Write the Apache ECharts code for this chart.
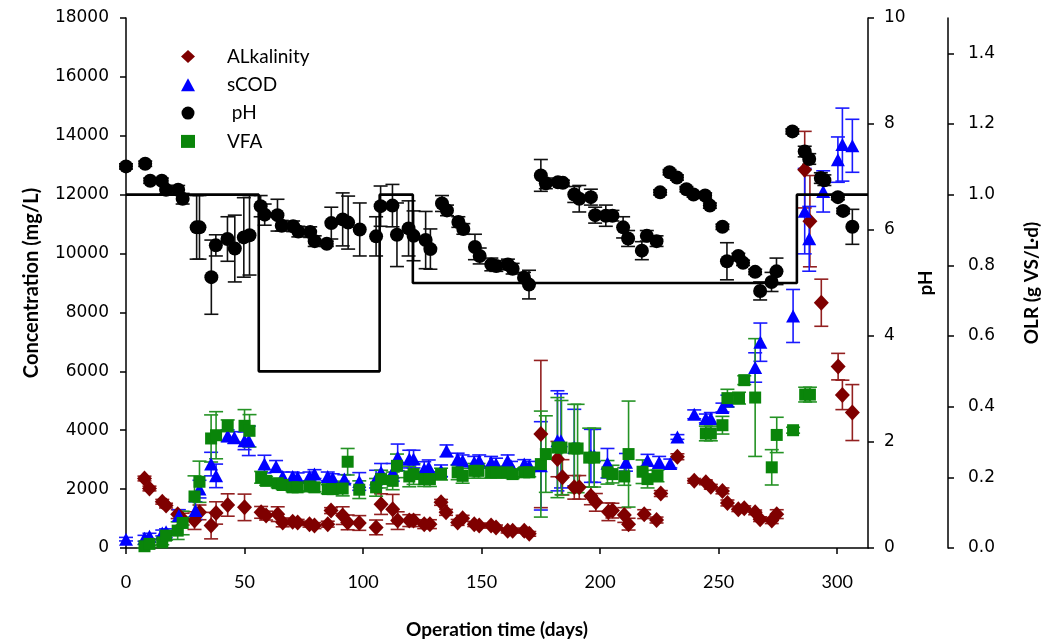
<!DOCTYPE html>
<html>
<head>
<meta charset="utf-8">
<script src="https://cdn.jsdelivr.net/npm/echarts@6/dist/echarts.min.js"></script>
<style>
  html, body { margin: 0; padding: 0; background: #ffffff; }
  #chart { width: 1049px; height: 644px; }
</style>
</head>
<body>
<div id="chart"></div>
<script>
// ---- Alkalinity (mg/L) ----
const alkDays = [7.8, 9.9, 15.3, 16.9, 21.8, 23.9, 28.9, 31.0, 35.9, 38.0, 42.9, 50.0, 57.0, 59.1, 64.0, 66.1, 70.3, 72.4, 77.4, 79.5, 85.1, 86.5, 91.4, 93.5, 98.4, 105.5, 107.6, 112.5, 114.6, 119.5, 121.3, 125.8, 128.2, 132.9, 135.0, 139.9, 142.0, 146.9, 149.0, 154.0, 156.1, 161.0, 163.1, 168.0, 170.1, 175.0, 182.0, 184.1, 189.1, 191.2, 196.1, 198.2, 203.5, 205.2, 210.2, 212.0, 218.6, 223.8, 225.6, 232.6, 239.7, 244.6, 246.7, 251.6, 253.7, 258.3, 260.8, 265.4, 267.5, 272.4, 274.5, 286.3, 288.5, 293.3, 300.4, 302.2, 306.4];
const alkValues = [2360, 2020, 1570, 1440, 1150, 980, 930, 1210, 760, 1190, 1460, 1380, 1210, 1100, 1150, 870, 890, 870, 810, 760, 810, 1270, 1100, 870, 850, 700, 1490, 1320, 930, 930, 930, 810, 810, 1550, 1210, 870, 1010, 810, 760, 760, 700, 590, 590, 590, 480, 3870, 3020, 2400, 2060, 2060, 1770, 1550, 1230, 1270, 1120, 810, 1150, 950, 1850, 3100, 2280, 2230, 2080, 1940, 1530, 1320, 1350, 1210, 980, 930, 1150, 12850, 11100, 8330, 6160, 5200, 4600];
const alkErrors = [80, 80, 80, 80, 150, 200, 300, 250, 450, 380, 380, 450, 200, 150, 250, 150, 100, 100, 100, 100, 100, 100, 300, 250, 250, 250, 350, 500, 300, 200, 200, 150, 150, 100, 100, 100, 100, 80, 80, 80, 80, 80, 80, 80, 80, 2500, 600, 600, 400, 400, 300, 300, 300, 250, 250, 200, 150, 100, 100, 100, 80, 80, 80, 100, 100, 80, 80, 80, 80, 100, 150, 1300, 1550, 800, 450, 500, 950];

// ---- Soluble COD (mg/L) ----
const codDays = [0, 7.8, 9.9, 15.3, 16.9, 22.3, 29.3, 31.0, 35.9, 38.0, 42.9, 45.7, 50.0, 51.8, 58.4, 63.3, 66.1, 70.3, 72.4, 77.4, 79.5, 85.1, 87.2, 92.1, 98.4, 105.5, 107.6, 112.5, 114.6, 119.5, 121.3, 125.8, 127.7, 132.9, 135.2, 139.9, 142.0, 146.9, 149.0, 154.0, 156.1, 161.0, 162.4, 168.0, 170.1, 175.0, 182.0, 183.5, 189.1, 196.1, 197.5, 203.1, 210.9, 220.0, 224.9, 229.6, 232.6, 239.7, 244.6, 246.7, 251.6, 253.7, 265.4, 267.6, 281.4, 286.3, 288.2, 294.1, 300.3, 302.2, 306.4];
const codValues = [300, 330, 400, 510, 550, 1100, 1270, 2000, 2850, 2450, 3810, 3750, 3640, 3640, 2850, 2770, 2430, 2430, 2400, 2430, 2510, 2430, 2370, 2340, 2260, 2340, 2570, 2570, 3080, 3020, 3020, 2680, 2740, 2620, 3300, 3020, 2960, 2910, 2960, 2910, 2850, 2960, 2790, 2850, 2790, 2790, 3640, 3640, 3410, 3130, 3130, 2880, 2910, 2980, 2910, 2870, 3770, 4540, 4400, 4400, 4770, 4990, 6130, 6990, 7880, 11440, 10500, 12110, 13190, 13700, 13660];
const codErrors = [60, 100, 100, 100, 100, 200, 300, 300, 400, 400, 200, 200, 300, 500, 300, 200, 150, 150, 150, 150, 150, 150, 150, 150, 300, 300, 300, 300, 450, 300, 300, 250, 250, 200, 200, 200, 200, 200, 200, 200, 200, 200, 150, 150, 150, 1500, 1700, 1600, 1300, 900, 900, 500, 300, 200, 200, 150, 80, 150, 150, 200, 150, 200, 500, 650, 900, 1450, 1100, 700, 770, 1240, 900];

// ---- pH ----
const phDays = [0, 8.1, 10.2, 15.1, 16.9, 22.0, 23.9, 29.8, 31.0, 36.0, 37.9, 42.8, 45.9, 49.7, 52.1, 56.8, 58.5, 63.9, 65.7, 70.5, 72.7, 77.7, 79.6, 84.7, 86.6, 91.4, 93.7, 98.6, 105.5, 107.4, 112.4, 114.3, 119.2, 121.3, 126.4, 128.4, 133.3, 135.4, 140.2, 142.3, 147.2, 149.2, 154.1, 156.2, 161.1, 163.1, 167.9, 170.0, 175.0, 177.1, 182.2, 184.3, 189.1, 191.2, 196.1, 197.9, 202.4, 205.2, 209.7, 211.8, 217.6, 219.7, 223.8, 225.3, 229.3, 232.4, 236.4, 239.4, 244.3, 246.3, 251.6, 253.5, 258.3, 260.3, 265.4, 267.5, 272.3, 274.4, 281.1, 286.3, 288.2, 293.1, 294.6, 300.3, 302.5, 306.4];
const phValues = [7.20, 7.25, 6.93, 6.93, 6.76, 6.76, 6.59, 6.05, 6.05, 5.11, 5.71, 5.83, 5.65, 5.86, 5.90, 6.45, 6.29, 6.28, 6.08, 6.07, 5.97, 5.96, 5.79, 5.74, 6.13, 6.20, 6.14, 6.01, 5.88, 6.45, 6.46, 5.91, 6.03, 5.89, 5.81, 5.64, 6.50, 6.37, 6.15, 6.02, 5.68, 5.51, 5.35, 5.32, 5.35, 5.27, 5.10, 4.97, 7.03, 6.88, 6.90, 6.89, 6.67, 6.59, 6.62, 6.28, 6.27, 6.27, 6.05, 5.84, 5.61, 5.89, 5.79, 6.71, 7.09, 6.99, 6.77, 6.67, 6.65, 6.46, 6.06, 5.41, 5.51, 5.38, 5.21, 4.85, 5.02, 5.22, 7.86, 7.48, 7.34, 6.98, 6.94, 6.62, 6.36, 6.06];
const phErrors = [0.05, 0.05, 0.05, 0.05, 0.08, 0.08, 0.1, 0.6, 0.6, 0.7, 0.2, 0.42, 0.63, 0.75, 0.75, 0.2, 0.2, 0.3, 0.1, 0.1, 0.1, 0.1, 0.1, 0.05, 0.3, 0.5, 0.5, 0.5, 0.37, 0.38, 0.4, 0.6, 0.52, 0.47, 0.54, 0.38, 0.15, 0.1, 0.1, 0.1, 0.24, 0.15, 0.12, 0.1, 0.1, 0.1, 0.1, 0.27, 0.3, 0.1, 0.05, 0.05, 0.15, 0.25, 0.15, 0.15, 0.2, 0.1, 0.2, 0.15, 0.17, 0.1, 0.1, 0.05, 0.05, 0.05, 0.05, 0.05, 0.05, 0.05, 0.05, 0.35, 0.05, 0.05, 0.05, 0.17, 0.18, 0.25, 0.05, 0.1, 0.1, 0.1, 0.1, 0.05, 0.05, 0.33];

// ---- Volatile fatty acids (mg/L) ----
const vfaDays = [7.8, 9.9, 15.3, 16.9, 21.8, 23.9, 28.9, 31.0, 35.9, 38.0, 42.9, 50.0, 52.1, 57.0, 59.1, 64.0, 66.1, 70.3, 72.4, 77.4, 79.5, 85.1, 87.2, 91.4, 93.5, 98.4, 105.5, 107.6, 112.5, 114.3, 119.5, 121.3, 125.8, 128.2, 132.9, 139.9, 142.0, 146.9, 148.7, 154.0, 156.1, 161.0, 163.1, 168.0, 170.1, 175.0, 177.1, 182.0, 183.7, 189.1, 190.5, 195.4, 197.5, 203.1, 205.2, 210.2, 212.0, 217.9, 220.0, 224.2, 244.6, 246.7, 251.6, 253.7, 258.6, 260.8, 265.4, 272.4, 274.5, 281.4, 286.5, 288.5];
const vfaValues = [60, 140, 190, 420, 590, 850, 1750, 2250, 3720, 3830, 4150, 4150, 3980, 2400, 2280, 2200, 2140, 2060, 2060, 2090, 2060, 2000, 2000, 2020, 2930, 1980, 2060, 2340, 2280, 2790, 2430, 2510, 2340, 2340, 2510, 2570, 2450, 2620, 2620, 2570, 2570, 2570, 2510, 2570, 2570, 2850, 3190, 3410, 3410, 3380, 3380, 3070, 3070, 2570, 2510, 2430, 3190, 2590, 2340, 2450, 3890, 3890, 4170, 5090, 5090, 5700, 5110, 2740, 3840, 4000, 5210, 5210];
const vfaErrors = [60, 60, 80, 150, 300, 400, 700, 700, 800, 800, 200, 550, 550, 200, 150, 150, 150, 150, 150, 150, 150, 150, 150, 250, 450, 300, 300, 300, 300, 400, 350, 350, 250, 250, 200, 250, 250, 250, 250, 200, 200, 200, 150, 150, 150, 1800, 1300, 1700, 1600, 1500, 1500, 1000, 1000, 400, 300, 300, 1800, 400, 300, 200, 250, 250, 300, 300, 200, 150, 2000, 600, 600, 100, 250, 250];

// ---- Organic loading rate (g VS/L·d), stepwise ----
const olrDays = [0, 56, 107, 121, 283, 313];
const olrValues = [1.0, 0.5, 1.0, 0.75, 1.0, 1.0];

// ---- Axis ticks ----
const dayTicks = [0, 50, 100, 150, 200, 250, 300];
const olrTicks = [0, 0.2, 0.4, 0.6, 0.8, 1.0, 1.2, 1.4];

const ALK_COLOR = '#7f0000', ALK_BAR = '#932020';
const COD_COLOR = '#0000ff', COD_BAR = '#1a1aff';
const PH_COLOR = '#000000', PH_BAR = '#111111';
const VFA_COLOR = '#0a850a', VFA_BAR = '#259325';

const tickFont = { fontFamily: 'DejaVu Sans', fontSize: 17, color: '#000' };
const nameFont = { fontFamily: 'Lato', fontWeight: 'bold', fontSize: 19, color: '#000' };
const axisLine = { show: true, lineStyle: { color: '#000', width: 1.5 } };
const axisTick = { show: true, inside: false, length: 6, lineStyle: { color: '#000', width: 1.5 } };

function pairs(xs, ys) { return xs.map((x, i) => [x, ys[i]]); }

// Vertical error bars with caps, placed through the axis scales.
function errorBars(id, days, vals, errs, color, yAxisIndex) {
  return {
    id: id,
    type: 'custom',
    yAxisIndex: yAxisIndex,
    silent: true,
    encode: { x: 0, y: 1 },
    data: days.map((d, i) => [d, vals[i], errs[i]]),
    renderItem: function (params, api) {
      const d = api.value(0), v = api.value(1), e = api.value(2);
      const top = api.coord([d, v + e]);
      const bot = api.coord([d, v - e]);
      const cap = 7;
      const st = () => ({ stroke: color, lineWidth: 1.6 });
      return {
        type: 'group',
        children: [
          { type: 'line', shape: { x1: top[0], y1: top[1], x2: bot[0], y2: bot[1] }, style: st() },
          { type: 'line', shape: { x1: top[0] - cap, y1: top[1], x2: top[0] + cap, y2: top[1] }, style: st() },
          { type: 'line', shape: { x1: bot[0] - cap, y1: bot[1], x2: bot[0] + cap, y2: bot[1] }, style: st() }
        ]
      };
    }
  };
}

const chart = echarts.init(document.getElementById('chart'), null, { renderer: 'canvas' });

chart.setOption({
  animation: false,
  backgroundColor: '#ffffff',
  grid: { left: 126, right: 181, top: 18, bottom: 95, containLabel: false },
  legend: {
    orient: 'vertical',
    left: 176,
    top: 42,
    itemWidth: 14,
    itemHeight: 13,
    itemGap: 9.3,
    textStyle: { fontFamily: 'Lato', fontSize: 19, color: '#000', lineHeight: 13, padding: [0, 0, 0, 27] },
    data: [
      { name: 'ALkalinity', icon: 'diamond' },
      { name: 'sCOD', icon: 'triangle' },
      { name: ' pH', icon: 'circle' },
      { name: 'VFA', icon: 'rect' }
    ]
  },
  xAxis: {
    type: 'value',
    min: 0,
    max: 313,
    name: 'Operation time (days)',
    nameLocation: 'middle',
    nameGap: 72,
    nameTextStyle: nameFont,
    axisLine: axisLine,
    axisTick: Object.assign({ customValues: dayTicks }, axisTick),
    axisLabel: { customValues: dayTicks, margin: 25, fontFamily: 'Lato', fontSize: 18, color: '#000' },
    splitLine: { show: false }
  },
  yAxis: [
    {
      type: 'value',
      position: 'left',
      min: 0,
      max: 18000,
      interval: 2000,
      name: 'Concentration (mg/L)',
      nameLocation: 'middle',
      nameGap: 84,
      nameRotate: 90,
      nameTextStyle: Object.assign({}, nameFont, { fontSize: 20 }),
      axisLine: axisLine,
      axisTick: axisTick,
      axisLabel: Object.assign({ margin: 17, formatter: v => String(v) }, tickFont),
      splitLine: { show: false }
    },
    {
      type: 'value',
      position: 'right',
      min: 0,
      max: 10,
      interval: 2,
      name: 'pH',
      nameLocation: 'middle',
      nameGap: 22,
      nameRotate: 90,
      nameTextStyle: nameFont,
      axisLine: axisLine,
      axisTick: axisTick,
      axisLabel: Object.assign({ margin: 16 }, tickFont),
      splitLine: { show: false }
    },
    {
      type: 'value',
      position: 'right',
      offset: 80,
      min: 0,
      max: 1.5,
      name: 'OLR (g VS/L·d)',
      nameLocation: 'middle',
      nameGap: 74,
      nameRotate: 90,
      nameTextStyle: nameFont,
      axisLine: axisLine,
      axisTick: Object.assign({ customValues: olrTicks }, axisTick),
      axisLabel: Object.assign({ customValues: olrTicks, margin: 20, formatter: v => v.toFixed(1) }, tickFont),
      splitLine: { show: false }
    }
  ],
  series: [
    {
      name: 'OLR',
      type: 'line',
      yAxisIndex: 2,
      step: 'end',
      showSymbol: false,
      symbol: 'none',
      lineStyle: { color: '#000', width: 2.6 },
      data: pairs(olrDays, olrValues)
    },
    errorBars('alkErr', alkDays, alkValues, alkErrors, ALK_BAR, 0),
    {
      name: 'ALkalinity',
      type: 'scatter',
      yAxisIndex: 0,
      symbol: 'diamond',
      symbolSize: [15, 16],
      itemStyle: { color: ALK_COLOR, opacity: 1 },
      data: pairs(alkDays, alkValues)
    },
    errorBars('codErr', codDays, codValues, codErrors, COD_BAR, 0),
    {
      name: 'sCOD',
      type: 'scatter',
      yAxisIndex: 0,
      symbol: 'triangle',
      symbolSize: [14, 13],
      itemStyle: { color: COD_COLOR, opacity: 1 },
      data: pairs(codDays, codValues)
    },
    errorBars('phErr', phDays, phValues, phErrors, PH_BAR, 1),
    {
      name: ' pH',
      type: 'scatter',
      yAxisIndex: 1,
      symbol: 'circle',
      symbolSize: 14,
      itemStyle: { color: PH_COLOR, opacity: 1 },
      data: pairs(phDays, phValues)
    },
    errorBars('vfaErr', vfaDays, vfaValues, vfaErrors, VFA_BAR, 0),
    {
      name: 'VFA',
      type: 'scatter',
      yAxisIndex: 0,
      symbol: 'rect',
      symbolSize: 12,
      itemStyle: { color: VFA_COLOR, opacity: 1 },
      data: pairs(vfaDays, vfaValues)
    }
  ]
});
</script>
</body>
</html>
